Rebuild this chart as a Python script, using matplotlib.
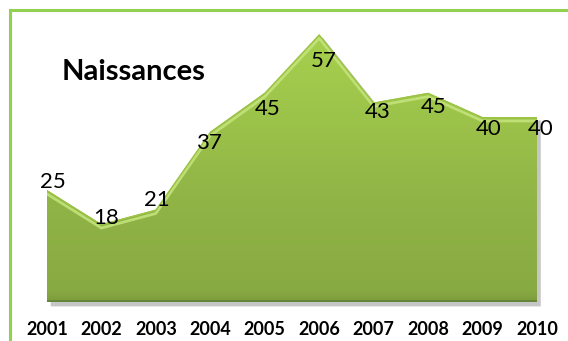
import matplotlib

matplotlib.use("Agg")
import matplotlib.pyplot as plt
import numpy as np
from matplotlib.colors import LinearSegmentedColormap
from matplotlib.patches import Rectangle


years = ["2001", "2002", "2003", "2004", "2005", "2006", "2007", "2008", "2009", "2010"]
births = [25, 18, 21, 37, 45, 57, 43, 45, 40, 40]

# label nudges in pixels (dx right, dy down) so the numbers sit on the bevel
label_dx = [6, 5, 1, -1, 3, 5, 4, 6, 6, 4]
label_dy = [-8, -6, -10, 11, 16, 27, 10, 14, 12, 12]

Y_MIN, Y_MAX = 2, 62
FONT = ["Lato", "DejaVu Sans"]

fig = plt.figure(figsize=(5.68, 3.41), dpi=100)
fig.patch.set_facecolor("white")

# green frame of the chart object (only left and top edges are in view)
fig.add_artist(Rectangle((10 / 568, -0.2), 1.2, 1.2 - 9.5 / 341,
                         transform=fig.transFigure, fill=False,
                         edgecolor="#92D050", linewidth=2.2))

ax = fig.add_axes([47 / 568, (341 - 302) / 341, 490 / 568, 292 / 341])
x = np.arange(len(births))
y = np.array(births, dtype=float)

# drop shadow under and to the right of the area
ax.fill_between(x + 0.06, y - 0.6, Y_MIN - 0.8, color="#a0a0a0", alpha=0.6,
                linewidth=0, zorder=1, clip_on=False)

poly = ax.fill_between(x, y, Y_MIN, color="none", linewidth=0, zorder=2)

# vertical gradient fill clipped to the area
grad = LinearSegmentedColormap.from_list(
    "green", [(0.0, "#7c9c3c"), (0.04, "#88aa42"), (0.35, "#91b447"),
              (0.65, "#9dc44a"), (1.0, "#aad450")])
g = np.linspace(0, 1, 256).reshape(-1, 1)
img = ax.imshow(g, extent=[0, len(births) - 1, Y_MIN, Y_MAX], origin="lower",
                aspect="auto", cmap=grad, zorder=2, interpolation="bilinear")
img.set_clip_path(poly.get_paths()[0], transform=ax.transData)

# bevel: light rim along the top edge, darker rim at the base
ax.plot(x, y - 0.8, color="#c6e57e", linewidth=2.0, alpha=0.85, zorder=3,
        solid_joinstyle="round")
ax.plot(x, y - 0.15, color="#9cc444", linewidth=1.0, zorder=3)
ax.plot([0, len(births) - 1], [Y_MIN + 0.15, Y_MIN + 0.15], color="#66853a",
        linewidth=1.4, zorder=3)

for i, v in enumerate(births):
    ax.annotate(str(v), (x[i], v), xytext=(label_dx[i], -label_dy[i]),
                textcoords="offset pixels", ha="center", va="center",
                fontsize=16, family=FONT, color="black", zorder=5,
                annotation_clip=False)

ax.set_xlim(0, len(births) - 1)
ax.set_ylim(Y_MIN, Y_MAX)
ax.set_xticks(x)
ax.set_xticklabels(years, fontsize=13, fontweight="bold", family=FONT)
ax.tick_params(axis="x", length=0, pad=14)
ax.set_yticks([])
for side in ax.spines.values():
    side.set_visible(False)
ax.patch.set_alpha(0)

fig.text(62 / 568, 1 - 72 / 341, "Naissances", fontsize=21, fontweight="bold",
         family=FONT, ha="left", va="center")

fig.savefig("out.png", dpi=100)
